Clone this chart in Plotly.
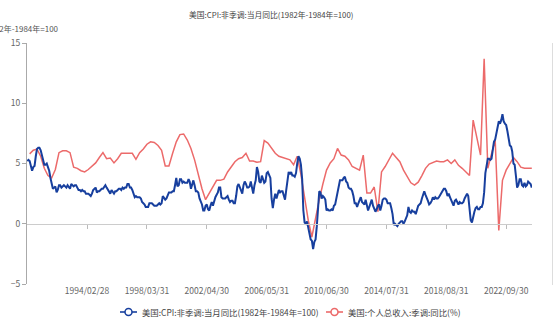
import pandas as pd
import plotly.graph_objects as go

# ---- data ----
cpi_yoy = [
    5.2, 5.3, 5.2, 4.7, 4.4, 4.7, 4.8, 5.6, 6.2, 6.3, 6.3, 6.1,   # 1990
    5.7, 5.3, 4.9, 4.9, 5.0, 4.7, 4.4, 3.8, 3.4, 2.9, 3.0, 3.1,   # 1991
    2.6, 2.8, 3.2, 3.2, 3.0, 3.1, 3.2, 3.1, 3.0, 3.2, 3.0, 2.9,   # 1992
    3.3, 3.2, 3.1, 3.2, 3.2, 3.0, 2.8, 2.8, 2.7, 2.8, 2.7, 2.7,   # 1993
    2.5, 2.5, 2.5, 2.4, 2.3, 2.5, 2.8, 2.9, 3.0, 2.6, 2.7, 2.7,   # 1994
    2.8, 2.9, 2.9, 3.1, 3.2, 3.0, 2.8, 2.6, 2.5, 2.8, 2.6, 2.5,   # 1995
    2.7, 2.7, 2.8, 2.9, 2.9, 2.8, 3.0, 2.9, 3.0, 3.0, 3.3, 3.3,   # 1996
    3.0, 3.0, 2.8, 2.5, 2.2, 2.3, 2.2, 2.2, 2.2, 2.1, 1.8, 1.7,   # 1997
    1.6, 1.4, 1.4, 1.4, 1.7, 1.7, 1.7, 1.6, 1.5, 1.5, 1.5, 1.6,   # 1998
    1.7, 1.6, 1.7, 2.3, 2.1, 2.0, 2.1, 2.3, 2.6, 2.6, 2.6, 2.7,   # 1999
    2.7, 3.2, 3.8, 3.1, 3.2, 3.7, 3.7, 3.4, 3.5, 3.4, 3.4, 3.4,   # 2000
    3.7, 3.5, 2.9, 3.3, 3.6, 3.2, 2.7, 2.7, 2.6, 2.1, 1.9, 1.6,   # 2001
    1.1, 1.1, 1.5, 1.6, 1.2, 1.1, 1.5, 1.8, 1.5, 2.0, 2.2, 2.4,   # 2002
    2.6, 3.0, 3.0, 2.2, 2.1, 2.1, 2.1, 2.2, 2.3, 2.0, 1.8, 1.9,   # 2003
    1.9, 1.7, 1.7, 2.3, 3.1, 3.3, 3.0, 2.7, 2.5, 3.2, 3.5, 3.3,   # 2004
    3.0, 3.0, 3.1, 3.5, 2.8, 2.5, 3.2, 3.6, 4.7, 4.3, 3.5, 3.4,   # 2005
    4.0, 3.6, 3.4, 3.5, 4.2, 4.3, 4.1, 3.8, 2.1, 1.3, 2.0, 2.5,   # 2006
    2.1, 2.4, 2.8, 2.6, 2.7, 2.7, 2.4, 2.0, 2.8, 3.5, 4.3, 4.1,   # 2007
    4.3, 4.0, 4.0, 3.9, 4.2, 5.0, 5.6, 5.4, 4.9, 3.7, 1.1, 0.1,   # 2008
    0.0, 0.2, -0.4, -0.7, -1.3, -1.4, -2.1, -1.5, -1.3, -0.2, 1.8, 2.7,  # 2009
    2.6, 2.1, 2.3, 2.2, 2.0, 1.1, 1.2, 1.1, 1.1, 1.2, 1.1, 1.5,   # 2010
    1.6, 2.1, 2.7, 3.2, 3.6, 3.6, 3.6, 3.8, 3.9, 3.5, 3.4, 3.0,   # 2011
    2.9, 2.9, 2.7, 2.3, 1.7, 1.7, 1.4, 1.7, 2.0, 2.2, 1.8, 1.7,   # 2012
    1.6, 2.0, 1.5, 1.1, 1.4, 1.8, 2.0, 1.5, 1.2, 1.0, 1.2, 1.5,   # 2013
    1.6, 1.1, 1.5, 2.0, 2.1, 2.1, 2.0, 1.7, 1.7, 1.7, 1.3, 0.8,   # 2014
    -0.1, 0.0, -0.1, -0.2, 0.0, 0.1, 0.2, 0.2, 0.0, 0.2, 0.5, 0.7,  # 2015
    1.4, 1.0, 0.9, 1.1, 1.0, 1.0, 0.8, 1.1, 1.5, 1.6, 1.7, 2.1,   # 2016
    2.5, 2.7, 2.4, 2.2, 1.9, 1.6, 1.7, 1.9, 2.2, 2.0, 2.2, 2.1,   # 2017
    2.1, 2.2, 2.4, 2.5, 2.8, 2.9, 2.9, 2.7, 2.3, 2.5, 2.2, 1.9,   # 2018
    1.6, 1.5, 1.9, 2.0, 1.8, 1.6, 1.8, 1.7, 1.7, 1.8, 2.1, 2.3,   # 2019
    2.5, 2.3, 1.5, 0.3, 0.1, 0.6, 1.0, 1.3, 1.4, 1.2, 1.2, 1.4,   # 2020
    1.4, 1.7, 2.6, 4.2, 5.0, 5.4, 5.4, 5.3, 5.4, 6.2, 6.8, 7.0,   # 2021
    7.5, 7.9, 8.5, 8.3, 8.6, 9.1, 8.5, 8.3, 8.2, 7.7, 7.1, 6.5,   # 2022
    6.4, 6.0, 5.0, 4.9, 4.0, 3.0, 3.2, 3.7, 3.7, 3.2, 3.1, 3.4,   # 2023
    3.1, 3.2, 3.5, 3.4, 3.3, 3.0,                                 # 2024
]

income_yoy = [
    5.8, 6.1, 6.2, 5.6,     # 1990
    4.6, 4.0, 3.8, 4.5,     # 1991
    5.9, 6.05, 6.05, 5.9,   # 1992
    4.7, 4.6, 4.4, 4.3,     # 1993
    4.5, 4.75, 5.05, 5.5,   # 1994
    5.9, 5.4, 5.45, 5.05,   # 1995
    5.4, 5.85, 5.85, 5.85,  # 1996
    5.85, 5.35, 5.9, 6.2,   # 1997
    6.6, 6.8, 6.75, 6.5,    # 1998
    6.1, 4.8, 4.8, 5.85,    # 1999
    6.8, 7.4, 7.45, 6.95,   # 2000
    6.25, 5.3, 4.0, 2.9,    # 2001
    2.0, 2.5, 3.05, 3.6,    # 2002
    3.6, 3.7, 4.3, 4.75,    # 2003
    5.15, 5.4, 5.5, 5.85,   # 2004
    5.2, 5.2, 5.1, 5.15,    # 2005
    6.9, 6.7, 6.25, 5.85,   # 2006
    5.6, 5.5, 5.4, 5.3,     # 2007
    4.9, 5.6, 4.1, 2.2,     # 2008
    0.3, -1.1, 0.5, 2.0,    # 2009
    3.3, 4.45, 5.05, 5.4,   # 2010
    6.25, 5.7, 5.6, 5.3,    # 2011
    4.75, 4.6, 4.45, 5.7,   # 2012
    2.55, 2.55, 3.05, 1.0,  # 2013
    4.3, 4.75, 5.3, 5.85,   # 2014
    5.5, 5.15, 4.45, 3.9,   # 2015
    3.4, 3.2, 3.45, 4.0,    # 2016
    4.6, 4.95, 5.05, 5.2,   # 2017
    5.15, 5.15, 5.3, 5.0,   # 2018
    5.3, 4.85, 4.6, 4.3,    # 2019
    4.0, 8.6, 7.1, 5.7,     # 2020
    13.7, 4.6, 5.8, 6.95,   # 2021
    -0.55, 3.6, 4.45, 5.0,  # 2022
    5.5, 5.15, 4.7, 4.6,    # 2023
    4.6, 4.6,               # 2024
]

tick_labels = ["1994/02/28", "1998/03/31", "2002/04/30", "2006/05/31",
               "2010/06/30", "2014/07/31", "2018/08/31", "2022/09/30"]

name_cpi = "美国:CPI:非季调:当月同比(1982年-1984年=100)"
name_inc = "美国:个人总收入:季调:同比(%)"
y_unit = "1982年-1984年=100"

try:
    months = pd.date_range("1990-01-31", periods=len(cpi_yoy), freq="ME")
    quarters = pd.date_range("1990-03-31", periods=len(income_yoy), freq="QE")
except Exception:
    months = pd.date_range("1990-01-31", periods=len(cpi_yoy), freq="M")
    quarters = pd.date_range("1990-03-31", periods=len(income_yoy), freq="Q")

tick_vals = [pd.Timestamp(t.replace("/", "-")) for t in tick_labels]

BLUE = "#173f9e"
RED = "#ec6a6a"
FONT = "Noto Sans CJK SC, Microsoft YaHei, sans-serif"

W, H = 554, 327
L, R, T, B = 27, 22, 43, 43
PW, PH = W - L - R, H - T - B

def px(xp):
    return (xp - L) / PW

def py(yp):
    return (H - B - yp) / PH

fig = go.Figure()
fig.add_trace(go.Scatter(x=quarters, y=income_yoy, mode="lines", name=name_inc,
                         line=dict(color=RED, width=1.5), showlegend=False))
fig.add_trace(go.Scatter(x=months, y=cpi_yoy, mode="lines", name=name_cpi,
                         line=dict(color=BLUE, width=2), showlegend=False))
# anchor trace for zero-line axis
fig.add_trace(go.Scatter(x=[months[0]], y=[None], xaxis="x2", mode="lines",
                         showlegend=False, hoverinfo="skip"))

xr = ["1990-01-24", "2024-07-05"]

fig.update_layout(
    width=W, height=H,
    margin=dict(l=L, r=R, t=T, b=B),
    paper_bgcolor="white", plot_bgcolor="white",
    font=dict(family=FONT, size=9, color="#666"),
    showlegend=False,
    xaxis=dict(type="date", range=xr, tickvals=tick_vals, ticktext=tick_labels,
               showgrid=False, zeroline=False, showline=False, ticks="",
               tickfont=dict(size=8.5, color="#666")),
    xaxis2=dict(type="date", range=xr, overlaying="x", anchor="free", position=0.25,
                side="bottom", tickvals=tick_vals, showticklabels=False,
                ticks="outside", ticklen=4, tickcolor="#bbb", tickwidth=1,
                showline=True, linecolor="#ccc", linewidth=1, showgrid=False,
                zeroline=False),
    yaxis=dict(range=[-5, 15], tickvals=[-5, 0, 5, 10, 15], showgrid=False,
               zeroline=False, showline=True, linecolor="#aaa", linewidth=1,
               ticks="outside", ticklen=4, tickcolor="#aaa",
               tickfont=dict(size=8.5, color="#666")),
)

ann = []
ann.append(dict(text=name_cpi, x=px(271), y=py(15), xref="paper", yref="paper",
                xanchor="center", yanchor="middle", showarrow=False,
                font=dict(size=7.8, color="#444")))
ann.append(dict(text=y_unit, x=px(61), y=py(28), xref="paper", yref="paper",
                xanchor="right", yanchor="middle", showarrow=False,
                font=dict(size=8, color="#555")))

shapes = []
# right border line
shapes.append(dict(type="line", xref="paper", yref="paper", x0=px(552.5), x1=px(552.5),
                   y0=py(285), y1=py(43), line=dict(color="#ddd", width=1)))

# custom legend
ly = 312
items = [(120, name_cpi, BLUE), (326, name_inc, RED)]
for x0, label, col in items:
    shapes.append(dict(type="line", xref="paper", yref="paper", x0=px(x0), x1=px(x0 + 17),
                       y0=py(ly), y1=py(ly), line=dict(color=col, width=1.6)))
    cx, r = x0 + 8.5, 3.5
    shapes.append(dict(type="circle", xref="paper", yref="paper",
                       x0=px(cx - r), x1=px(cx + r), y0=py(ly + r), y1=py(ly - r),
                       fillcolor="white", line=dict(color=col, width=1.5)))
    ann.append(dict(text=label, x=px(x0 + 20), y=py(ly), xref="paper", yref="paper",
                    xanchor="left", yanchor="middle", showarrow=False,
                    font=dict(size=8.4, color="#444")))

fig.update_layout(annotations=ann, shapes=shapes)
fig.write_html("out.html")
